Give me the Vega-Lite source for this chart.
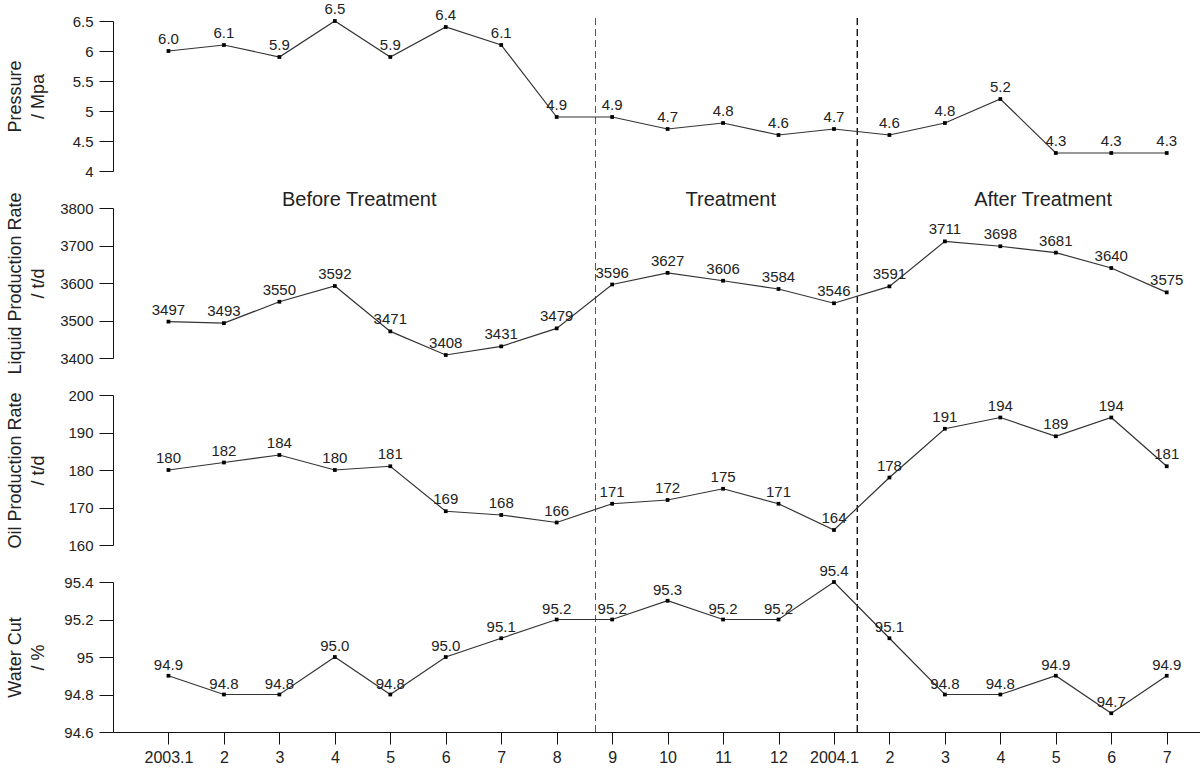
{
  "$schema": "https://vega.github.io/schema/vega-lite/v6.json",
  "background": "white",
  "padding": {"left": 5, "top": 2, "right": 0, "bottom": 5},
  "spacing": 37,
  "bounds": "flush",
  "config": {
    "font": "Liberation Sans",
    "view": {"stroke": null},
    "axis": {
      "grid": false,
      "domainColor": "#111",
      "tickColor": "#111",
      "labelColor": "#222",
      "labelFontSize": 15,
      "titleColor": "#222",
      "titleFontSize": 18,
      "titleFontWeight": "normal",
      "titleLineHeight": 23
    },
    "axisY": {
      "tickSize": 14,
      "labelPadding": 6,
      "titleX": -107,
      "titleY": 75,
      "titleBaseline": "top",
      "titleAngle": -90,
      "titleAlign": "center"
    },
    "axisX": {"tickSize": 12, "labelPadding": 5, "labelFontSize": 16}
  },
  "datasets": {
    "main": [
      {"i": 0, "pressure": 6.0, "liquid": 3497, "oil": 180, "water": 94.9},
      {"i": 1, "pressure": 6.1, "liquid": 3493, "oil": 182, "water": 94.8},
      {"i": 2, "pressure": 5.9, "liquid": 3550, "oil": 184, "water": 94.8},
      {"i": 3, "pressure": 6.5, "liquid": 3592, "oil": 180, "water": 95.0},
      {"i": 4, "pressure": 5.9, "liquid": 3471, "oil": 181, "water": 94.8},
      {"i": 5, "pressure": 6.4, "liquid": 3408, "oil": 169, "water": 95.0},
      {"i": 6, "pressure": 6.1, "liquid": 3431, "oil": 168, "water": 95.1},
      {"i": 7, "pressure": 4.9, "liquid": 3479, "oil": 166, "water": 95.2},
      {"i": 8, "pressure": 4.9, "liquid": 3596, "oil": 171, "water": 95.2},
      {"i": 9, "pressure": 4.7, "liquid": 3627, "oil": 172, "water": 95.3},
      {"i": 10, "pressure": 4.8, "liquid": 3606, "oil": 175, "water": 95.2},
      {"i": 11, "pressure": 4.6, "liquid": 3584, "oil": 171, "water": 95.2},
      {"i": 12, "pressure": 4.7, "liquid": 3546, "oil": 164, "water": 95.4},
      {"i": 13, "pressure": 4.6, "liquid": 3591, "oil": 178, "water": 95.1},
      {"i": 14, "pressure": 4.8, "liquid": 3711, "oil": 191, "water": 94.8},
      {"i": 15, "pressure": 5.2, "liquid": 3698, "oil": 194, "water": 94.8},
      {"i": 16, "pressure": 4.3, "liquid": 3681, "oil": 189, "water": 94.9},
      {"i": 17, "pressure": 4.3, "liquid": 3640, "oil": 194, "water": 94.7},
      {"i": 18, "pressure": 4.3, "liquid": 3575, "oil": 181, "water": 94.9}
    ]
  },
  "vconcat": [
    {
      "width": 1087,
      "height": 150,
      "data": {"name": "main"},
      "encoding": {
        "x": {"field": "i", "type": "quantitative", "scale": {"domain": [-1, 18.6], "nice": false, "zero": false}, "axis": null},
        "y": {"field": "pressure", "type": "quantitative",
          "scale": {"domain": [4, 6.5], "nice": false, "zero": false},
          "axis": {"title": ["Pressure", "/ Mpa"], "values": [4, 4.5, 5, 5.5, 6, 6.5], "format": "~f"}}
      },
      "layer": [
        {"transform": [{"filter": "datum.i == 0"}], "mark": {"type": "rule", "strokeDash": [7, 4], "color": "#555", "strokeWidth": 1},
         "encoding": {"x": {"datum": 7.7}, "y": {"datum": 6.55}, "y2": {"datum": 3.37}}},
        {"transform": [{"filter": "datum.i == 0"}], "mark": {"type": "rule", "strokeDash": [7, 4], "color": "#000", "strokeWidth": 1.3},
         "encoding": {"x": {"datum": 12.42}, "y": {"datum": 6.55}, "y2": {"datum": 3.37}}},
        {"mark": {"type": "line", "color": "#333", "strokeWidth": 1.2}},
        {"mark": {"type": "point", "shape": "square", "filled": true, "size": 14, "color": "#000", "opacity": 1}},
        {"mark": {"type": "text", "dy": -7, "baseline": "alphabetic", "fontSize": 15, "color": "#222"},
         "encoding": {"text": {"field": "pressure", "type": "quantitative", "format": ".1f"}}}
      ]
    },
    {
      "width": 1087,
      "height": 150,
      "data": {"name": "main"},
      "encoding": {
        "x": {"field": "i", "type": "quantitative", "scale": {"domain": [-1, 18.6], "nice": false, "zero": false}, "axis": null},
        "y": {"field": "liquid", "type": "quantitative",
          "scale": {"domain": [3400, 3800], "nice": false, "zero": false},
          "axis": {"title": ["Liquid Production Rate", "/ t/d"], "values": [3400, 3500, 3600, 3700, 3800], "format": "d"}}
      },
      "layer": [
        {"transform": [{"filter": "datum.i == 0"}], "mark": {"type": "rule", "strokeDash": [7, 4], "color": "#555", "strokeWidth": 1},
         "encoding": {"x": {"datum": 7.7}, "y": {"datum": 3800}, "y2": {"datum": 3300}}},
        {"transform": [{"filter": "datum.i == 0"}], "mark": {"type": "rule", "strokeDash": [7, 4], "color": "#000", "strokeWidth": 1.3},
         "encoding": {"x": {"datum": 12.42}, "y": {"datum": 3800}, "y2": {"datum": 3300}}},
        {"mark": {"type": "line", "color": "#333", "strokeWidth": 1.2}},
        {"mark": {"type": "point", "shape": "square", "filled": true, "size": 14, "color": "#000", "opacity": 1}},
        {"mark": {"type": "text", "dy": -7, "baseline": "alphabetic", "fontSize": 15, "color": "#222"},
         "encoding": {"text": {"field": "liquid", "type": "quantitative", "format": "d"}}},
        {"transform": [{"filter": "datum.i == 0"}], "mark": {"type": "text", "text": "Before Treatment", "fontSize": 20, "color": "#222", "baseline": "middle"},
         "encoding": {"x": {"datum": 3.44}, "y": {"datum": 3821}}},
        {"transform": [{"filter": "datum.i == 0"}], "mark": {"type": "text", "text": "Treatment", "fontSize": 20, "color": "#222", "baseline": "middle"},
         "encoding": {"x": {"datum": 10.14}, "y": {"datum": 3821}}},
        {"transform": [{"filter": "datum.i == 0"}], "mark": {"type": "text", "text": "After Treatment", "fontSize": 20, "color": "#222", "baseline": "middle"},
         "encoding": {"x": {"datum": 15.77}, "y": {"datum": 3821}}}
      ]
    },
    {
      "width": 1087,
      "height": 150,
      "data": {"name": "main"},
      "encoding": {
        "x": {"field": "i", "type": "quantitative", "scale": {"domain": [-1, 18.6], "nice": false, "zero": false}, "axis": null},
        "y": {"field": "oil", "type": "quantitative",
          "scale": {"domain": [160, 200], "nice": false, "zero": false},
          "axis": {"title": ["Oil Production Rate", "/ t/d"], "values": [160, 170, 180, 190, 200], "format": "d"}}
      },
      "layer": [
        {"transform": [{"filter": "datum.i == 0"}], "mark": {"type": "rule", "strokeDash": [7, 4], "color": "#555", "strokeWidth": 1},
         "encoding": {"x": {"datum": 7.7}, "y": {"datum": 200}, "y2": {"datum": 150}}},
        {"transform": [{"filter": "datum.i == 0"}], "mark": {"type": "rule", "strokeDash": [7, 4], "color": "#000", "strokeWidth": 1.3},
         "encoding": {"x": {"datum": 12.42}, "y": {"datum": 200}, "y2": {"datum": 150}}},
        {"mark": {"type": "line", "color": "#333", "strokeWidth": 1.2}},
        {"mark": {"type": "point", "shape": "square", "filled": true, "size": 14, "color": "#000", "opacity": 1}},
        {"mark": {"type": "text", "dy": -7, "baseline": "alphabetic", "fontSize": 15, "color": "#222"},
         "encoding": {"text": {"field": "oil", "type": "quantitative", "format": "d"}}}
      ]
    },
    {
      "width": 1087,
      "height": 150,
      "data": {"name": "main"},
      "encoding": {
        "x": {"field": "i", "type": "quantitative", "scale": {"domain": [-1, 18.6], "nice": false, "zero": false},
          "axis": {"title": null, "values": [0,1,2,3,4,5,6,7,8,9,10,11,12,13,14,15,16,17,18],
            "labelExpr": "['2003.1','2','3','4','5','6','7','8','9','10','11','12','2004.1','2','3','4','5','6','7'][datum.value]"}},
        "y": {"field": "water", "type": "quantitative",
          "scale": {"domain": [94.6, 95.4], "nice": false, "zero": false},
          "axis": {"title": ["Water Cut", "/ %"], "values": [94.6, 94.8, 95, 95.2, 95.4], "format": "~f"}}
      },
      "layer": [
        {"transform": [{"filter": "datum.i == 0"}], "mark": {"type": "rule", "strokeDash": [7, 4], "color": "#555", "strokeWidth": 1},
         "encoding": {"x": {"datum": 7.7}, "y": {"datum": 95.4}, "y2": {"datum": 94.6}}},
        {"transform": [{"filter": "datum.i == 0"}], "mark": {"type": "rule", "strokeDash": [7, 4], "color": "#000", "strokeWidth": 1.3},
         "encoding": {"x": {"datum": 12.42}, "y": {"datum": 95.4}, "y2": {"datum": 94.6}}},
        {"mark": {"type": "line", "color": "#333", "strokeWidth": 1.2}},
        {"mark": {"type": "point", "shape": "square", "filled": true, "size": 14, "color": "#000", "opacity": 1}},
        {"mark": {"type": "text", "dy": -6, "baseline": "alphabetic", "fontSize": 15, "color": "#222"},
         "encoding": {"text": {"field": "water", "type": "quantitative", "format": ".1f"}}}
      ]
    }
  ]
}
